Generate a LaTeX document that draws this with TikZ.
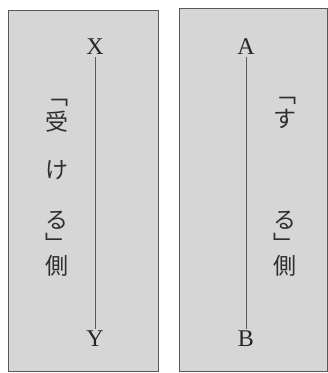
\documentclass[tikz,border=0pt]{standalone}
\usepackage{fontspec}
\setmainfont{Liberation Serif}
\newfontfamily\jpfont{Noto Sans CJK JP}
\begin{document}
\begin{tikzpicture}[x=1pt,y=-1pt,
  panel/.style={draw=black!65, line width=0.9pt, fill=black!16},
  lab/.style={font=\fontsize{24}{24}\selectfont, text=black!85, inner sep=1.5pt},
  jc/.style={font=\jpfont\fontsize{23}{23}\selectfont, text=black!82, inner sep=0pt},
  axis/.style={draw=black!65, line width=0.6pt}]
\useasboundingbox (0,0) rectangle (328,373);
\draw[panel] (8,10) rectangle (158,371);
\draw[panel] (179,8) rectangle (327,371);
% left panel
\node[lab] (X) at (95,47) {X};
\node[lab] (Y) at (95,339) {Y};
\draw[axis] (X.south) -- (Y.north);
\node[jc] (l1) at (57,103) {﹁};
\node[jc] (l2) at (57,122) {受};
\node[jc] (l3) at (57,170) {け};
\node[jc] (l4) at (57,220) {る};
\node[jc] (l5) at (57,243) {﹂};
\node[jc] (l6) at (57,266) {側};
% right panel
\node[lab] (A) at (246,47) {A};
\node[lab] (B) at (246,339) {B};
\draw[axis] (A.south) -- (B.north);
\node[jc] (r1) at (285,101) {﹁};
\node[jc] (r2) at (285,119) {す};
\node[jc] (r4) at (285,220) {る};
\node[jc] (r5) at (285,243) {﹂};
\node[jc] (r6) at (285,266) {側};
\end{tikzpicture}
\end{document}
